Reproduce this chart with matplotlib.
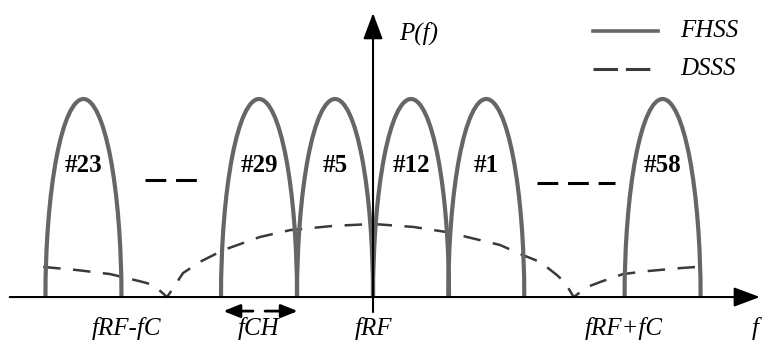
import numpy as np
import matplotlib
matplotlib.use('Agg')
import matplotlib.pyplot as plt
from matplotlib.patches import Arc

# frequencies in units of fCH, fRF at 0 ; power normalised to the FHSS peak
channels = ['#23', '#29', '#5', '#12', '#1', '#58']
centers = [-3.81, -1.5, -0.5, 0.5, 1.49, 3.81]
lobe_width = 1.0
lobe_height = 1.0

# DSSS spectrum
dsss_f = [-4.34, -3.89, -3.46, -3.03, -2.89, -2.71, -2.63, -2.50, -2.28, -1.97,
          -1.49, -1.09, -0.53, 0.0, 0.53, 0.97, 1.67, 1.97, 2.20, 2.42,
          2.53, 2.64, 2.82, 2.99, 3.29, 3.61, 4.04, 4.26]
dsss_p = [0.152, 0.136, 0.116, 0.076, 0.061, 0.0, 0.045, 0.121, 0.177, 0.237,
          0.303, 0.338, 0.359, 0.369, 0.354, 0.328, 0.263, 0.212, 0.177, 0.111,
          0.071, 0.0, 0.051, 0.076, 0.116, 0.131, 0.146, 0.152]

# tick labels under the f axis
tick_pos = [-3.24, -1.51, 0.0, 3.30]
tick_txt = ['fRF-fC', 'fCH', 'fRF', 'fRF+fC']

gray = '#666666'
dark = '#3a3a3a'
serif = 'Liberation Serif'

fig = plt.figure(figsize=(7.62, 3.4), dpi=100)
ax = fig.add_axes([0, 0, 1, 1])
ax.set_xlim(-4.908, 5.118)
ax.set_ylim(-0.217, 1.5)
ax.axis('off')

# DSSS
ax.plot(dsss_f, dsss_p, color=dark, lw=1.8, linestyle=(0, (7, 5)),
        solid_joinstyle='miter', zorder=2)

# FHSS lobes
for name, c in zip(channels, centers):
    ax.add_patch(Arc((c, 0), lobe_width, 2 * lobe_height, theta1=0, theta2=180,
                     color=gray, lw=3, zorder=3))
    ax.text(c, 0.665, name, ha='center', va='center', family=serif,
            weight='bold', fontsize=18)

# "..." between channel groups
ax.plot([-3.0, -2.32], [0.59, 0.59], color='black', lw=2.2,
        linestyle=(0, (6.8, 3.2)))
ax.plot([2.16, 3.18], [0.577, 0.577], color='black', lw=2.2,
        linestyle=(0, (6.8, 3.2)))

# axes arrows
arr = dict(arrowstyle='-|>,head_length=1.6,head_width=0.6', color='black',
           lw=1.5, shrinkA=0, shrinkB=0, mutation_scale=10)
ax.annotate('', xy=(5.09, 0), xytext=(-4.78, 0), arrowprops=arr, zorder=4)
ax.annotate('', xy=(0, 1.434), xytext=(0, -0.076), arrowprops=arr, zorder=4)

# fCH width arrows
small = dict(arrowstyle='-|>,head_length=1.0,head_width=0.4', color='black',
             lw=2, shrinkA=0, shrinkB=0, mutation_scale=10)
ax.annotate('', xy=(-1.97, -0.071), xytext=(-1.58, -0.071), arrowprops=small)
ax.annotate('', xy=(-0.99, -0.071), xytext=(-1.42, -0.071), arrowprops=small)

for x, t in zip(tick_pos, tick_txt):
    ax.text(x, -0.157, t, ha='center', va='center', family=serif,
            style='italic', fontsize=18)
ax.text(5.03, -0.157, 'f', ha='center', va='center', family=serif,
        style='italic', fontsize=18)
ax.text(0.605, 1.333, 'P(f)', ha='center', va='center', family=serif,
        style='italic', fontsize=18)

# legend
ax.plot([2.89, 3.75], [1.345, 1.345], color=gray, lw=2.6)
ax.plot([2.89, 3.67], [1.152, 1.152], color=dark, lw=2.2,
        linestyle=(0, (8, 2.6)))
ax.text(4.04, 1.345, 'FHSS', ha='left', va='center', family=serif,
        style='italic', fontsize=18)
ax.text(4.04, 1.152, 'DSSS', ha='left', va='center', family=serif,
        style='italic', fontsize=18)

fig.savefig('out.png', dpi=100)
